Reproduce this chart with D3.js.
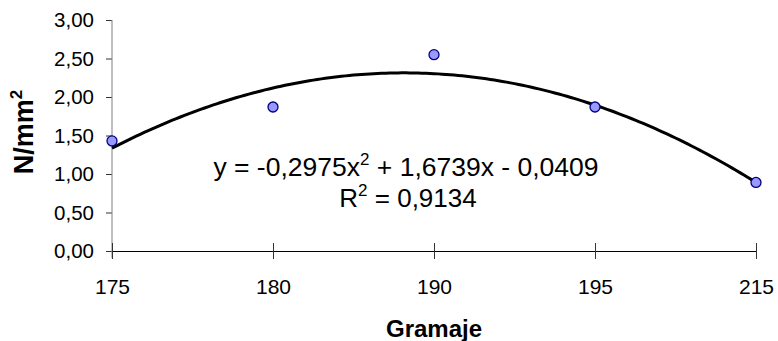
<html>
<head>
  <meta charset="utf-8">
  <title>Gramaje</title>
  <script src="https://cdn.jsdelivr.net/npm/d3@7"></script>
  <style>
    body { margin: 0; background: #fff; }
    svg text { font-family: Arial, "Liberation Sans", sans-serif; }
  </style>
</head>
<body>
<div id="chart"></div>
<script>
// categories on the x axis (equally spaced)
var categories = ["175", "180", "190", "195", "215"];
// measured values, N/mm2
var values = [1.43, 1.87, 2.55, 1.87, 0.89];
// y axis ticks
var yTicks = [0, 0.5, 1, 1.5, 2, 2.5, 3];
// polynomial trendline coefficients shown on the chart (a x^2 + b x + c, x = 1..n)
var trendCoef = [-0.2975, 1.6739, -0.0409];
var r2 = "0,9134";

var w = 778, h = 341;
var plotL = 112, plotR = 756, plotT = 20, plotB = 251;

var svg = d3.select("#chart").append("svg")
  .attr("width", w).attr("height", h);

var x = d3.scalePoint().domain(categories).range([plotL, plotR]);
var y = d3.scaleLinear().domain([0, 3]).range([plotB, plotT]);
var fmt = function(d) { return d3.format(".2f")(d).replace(".", ","); };

// y axis
var yAxis = svg.append("g")
  .attr("transform", "translate(" + plotL + ",0)")
  .call(d3.axisLeft(y).tickValues(yTicks).tickFormat(fmt).tickSize(6).tickPadding(12));
yAxis.select(".domain").remove();
yAxis.append("line").attr("x1", 0).attr("x2", 0).attr("y1", plotT).attr("y2", plotB + 7)
  .attr("stroke", "#808080");
yAxis.selectAll(".tick line").attr("stroke", "#333");
yAxis.selectAll("text").attr("font-size", "20.5px").attr("fill", "#000");

// x axis
var xAxis = svg.append("g")
  .attr("transform", "translate(0," + plotB + ")")
  .call(d3.axisBottom(x).tickSize(8).tickSizeOuter(0).tickPadding(20));
xAxis.select(".domain").attr("stroke", "#000");
xAxis.selectAll(".tick line").attr("y1", -8).attr("stroke", "#333");
xAxis.selectAll("text").attr("font-size", "21px").attr("fill", "#000");

// trendline from the chart's polynomial
var trendPts = d3.range(0, 161).map(function(i) {
  var t = 1 + i * (categories.length - 1) / 160;
  return [t, trendCoef[0] * t * t + trendCoef[1] * t + trendCoef[2]];
});
var xt = d3.scaleLinear().domain([1, categories.length]).range([plotL, plotR]);
svg.append("path")
  .datum(trendPts)
  .attr("fill", "none")
  .attr("stroke", "#000")
  .attr("stroke-width", 3)
  .attr("d", d3.line().x(function(d) { return xt(d[0]); }).y(function(d) { return y(d[1]); }));

// points
svg.selectAll("circle.pt")
  .data(values)
  .enter().append("circle")
  .attr("class", "pt")
  .attr("cx", function(d, i) { return x(categories[i]); })
  .attr("cy", function(d) { return y(d); })
  .attr("r", 5)
  .attr("fill", "#9999ff")
  .attr("stroke", "#000080")
  .attr("stroke-width", 1.3);

// equation
var eq = svg.append("text").attr("x", 406).attr("y", 176)
  .attr("text-anchor", "middle").attr("font-size", "26.5px");
eq.append("tspan").text("y = -0,2975x");
eq.append("tspan").attr("dy", -11).attr("font-size", "17px").text("2");
eq.append("tspan").attr("dy", 11).text(" + 1,6739x - 0,0409");

var rt = svg.append("text").attr("x", 408).attr("y", 207)
  .attr("text-anchor", "middle").attr("font-size", "26px");
rt.append("tspan").text("R");
rt.append("tspan").attr("dy", -11).attr("font-size", "17px").text("2");
rt.append("tspan").attr("dy", 11).text(" = " + r2);

// axis titles
svg.append("text").attr("x", 434).attr("y", 337)
  .attr("text-anchor", "middle").attr("font-size", "24px").attr("font-weight", "bold")
  .text("Gramaje");

var yl = svg.append("text")
  .attr("transform", "translate(33,132) rotate(-90)")
  .attr("text-anchor", "middle").attr("font-size", "27px").attr("font-weight", "bold");
yl.append("tspan").text("N/mm");
yl.append("tspan").attr("dy", -11).attr("font-size", "17px").text("2");
</script>
</body>
</html>
